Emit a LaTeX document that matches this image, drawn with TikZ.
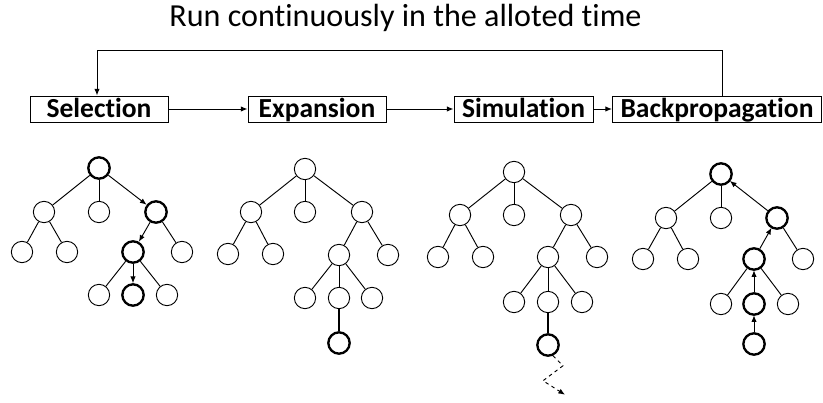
\documentclass[tikz,border=0pt]{standalone}
\usepackage{fontspec}
\setmainfont[Ligatures=NoCommon]{Carlito}
\usetikzlibrary{arrows.meta}

\begin{document}
\begin{tikzpicture}[
x=0.03cm, y=-0.03cm,
line width=0.8pt,
block/.style={
draw,
fill=white,
rectangle,
inner sep=0pt,
text height=0.57cm,
text depth=0.05cm,
minimum height=0.78cm,
font=\fontsize{23.5}{23.5}\selectfont\bfseries},
leaf/.style={
draw,
circle,
inner sep=0pt,
minimum size=0.64cm},
hot/.style={leaf, line width=2pt},
flow/.style={-{Latex[length=2mm,width=1.6mm]}},
back/.style={-{Latex[length=2mm,width=1.6mm]}, shorten >=-0.5pt}
]
\useasboundingbox (0,0) rectangle (823,403);

% title and loop
\draw (405.5,27) node[anchor=base, font=\fontsize{27.4}{27.4}\selectfont] (title) {Run continuously in the alloted time};

\draw (99,109) node[block, minimum width=4.14cm] (sel) {Selection};
\draw (317,109) node[block, minimum width=4.14cm] (exp) {Expansion};
\draw (523.5,109) node[block, minimum width=4.17cm] (sim) {Simulation};
\draw (717,109) node[block, minimum width=6.27cm] (bp) {Backpropagation};

\draw[flow] (sel) -- (exp);
\draw[flow] (exp) -- (sim);
\draw[flow] (sim) -- (bp);

\coordinate (loopR) at (722,50);
\coordinate (loopL) at (97,50);
\draw[flow] (bp.north -| loopR) -- (loopR) -- (loopL) -- (sel.north -| loopL);

% selection tree
\draw (99,168) node[hot] (sr) {};
\draw (44,212) node[leaf] (sl) {};
\draw (99,212) node[leaf] (sc) {};
\draw (156,212) node[hot] (st) {};
\draw (22,252) node[leaf] (sll) {};
\draw (67,252) node[leaf] (slr) {};
\draw (133,252) node[hot] (stl) {};
\draw (182,252) node[leaf] (str) {};
\draw (99,295) node[leaf] (sa) {};
\draw (133,295) node[hot] (sb) {};
\draw (167,295) node[leaf] (sd) {};
\draw (sr) -- (sl);
\draw (sr) -- (sc);
\draw[flow] (sr) -- (st);
\draw (sl) -- (sll);
\draw (sl) -- (slr);
\draw[flow] (st) -- (stl);
\draw (st) -- (str);
\draw (stl) -- (sa);
\draw[flow] (stl) -- (sb);
\draw (stl) -- (sd);

% expansion tree
\draw (305,169) node[leaf] (er) {};
\draw (251,212) node[leaf] (el) {};
\draw (305,212) node[leaf] (ec) {};
\draw (362,212) node[leaf] (et) {};
\draw (228,254) node[leaf] (ell) {};
\draw (273,254) node[leaf] (elr) {};
\draw (339,255) node[leaf] (etl) {};
\draw (388,255) node[leaf] (etr) {};
\draw (305,298) node[leaf] (ea) {};
\draw (339,298) node[leaf] (eb) {};
\draw (372,298) node[leaf] (ed) {};
\draw (339,343) node[hot] (ex) {};
\draw (er) -- (el);
\draw (er) -- (ec);
\draw (er) -- (et);
\draw (el) -- (ell);
\draw (el) -- (elr);
\draw (et) -- (etl);
\draw (et) -- (etr);
\draw (etl) -- (ea);
\draw (etl) -- (eb);
\draw (etl) -- (ed);
\draw[line width=2pt] (eb) -- (ex);

% simulation tree
\draw (514,172) node[leaf] (mr) {};
\draw (460,215) node[leaf] (ml) {};
\draw (514,215) node[leaf] (mc) {};
\draw (571,215) node[leaf] (mt) {};
\draw (438,257) node[leaf] (mll) {};
\draw (483,257) node[leaf] (mlr) {};
\draw (548,257) node[leaf] (mtl) {};
\draw (597,257) node[leaf] (mtr) {};
\draw (514,302) node[leaf] (ma) {};
\draw (548,302) node[leaf] (mb) {};
\draw (582,302) node[leaf] (md) {};
\draw (548,345) node[hot] (mx) {};
\draw (mr) -- (ml);
\draw (mr) -- (mc);
\draw (mr) -- (mt);
\draw (ml) -- (mll);
\draw (ml) -- (mlr);
\draw (mt) -- (mtl);
\draw (mt) -- (mtr);
\draw (mtl) -- (ma);
\draw (mtl) -- (mb);
\draw (mtl) -- (md);
\draw[line width=2pt] (mb) -- (mx);
\draw[flow, dashed, dash pattern=on 3pt off 3pt] (mx.-65) -- ++(10,10) -- ++(-20,15) -- ++(22,14);

% backpropagation tree
\draw (721,174) node[hot] (br) {};
\draw (666,218) node[leaf] (bl) {};
\draw (721,218) node[leaf] (bc) {};
\draw (777,218) node[hot] (bt) {};
\draw (643,259) node[leaf] (bll) {};
\draw (688,259) node[leaf] (blr) {};
\draw (754,259) node[hot] (btl) {};
\draw (803,259) node[leaf] (btr) {};
\draw (721,304) node[leaf] (ba) {};
\draw (754,304) node[hot] (bb) {};
\draw (788,304) node[leaf] (bd) {};
\draw (754,344) node[hot] (bx) {};
\draw[back] (bt) -- (br);
\draw (br) -- (bl);
\draw (br) -- (bc);
\draw (bl) -- (bll);
\draw (bl) -- (blr);
\draw[back] (btl) -- (bt);
\draw (bt) -- (btr);
\draw (btl) -- (ba);
\draw[back] (bb) -- (btl);
\draw (btl) -- (bd);
\draw[back] (bx) -- (bb);

\end{tikzpicture}
\end{document}
